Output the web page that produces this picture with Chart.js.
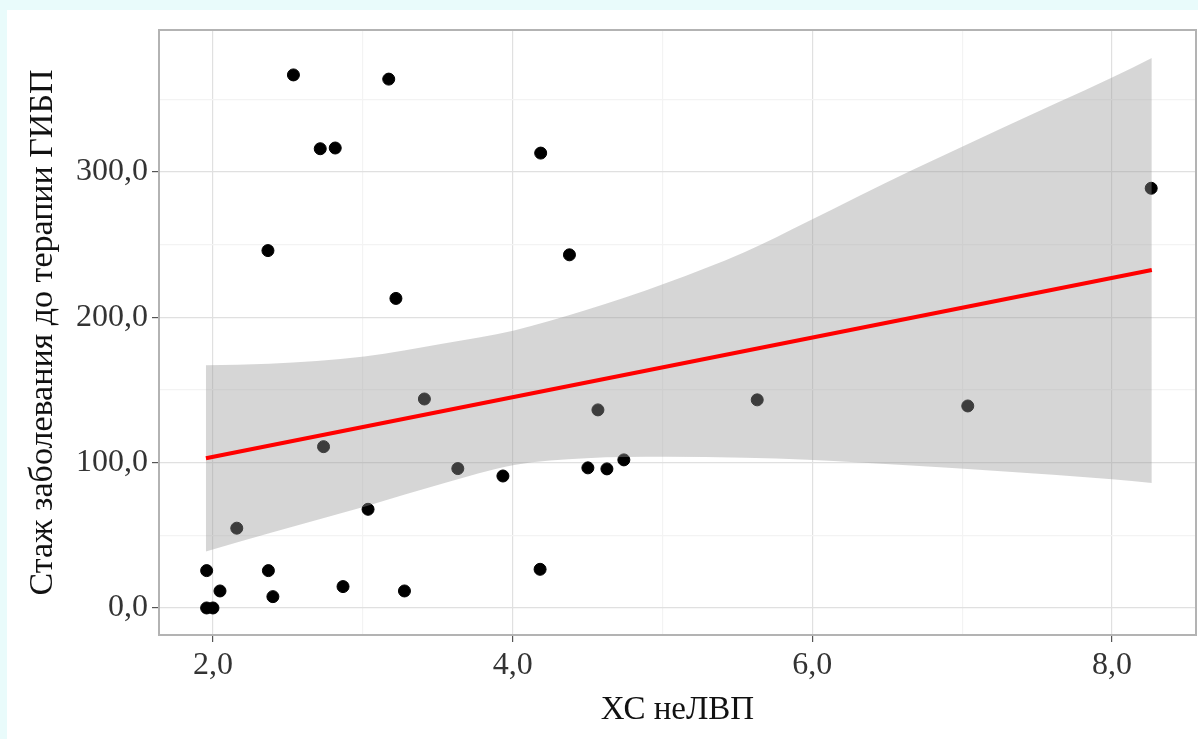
<!DOCTYPE html>
<html>
<head>
<meta charset="utf-8">
<script src="https://cdn.jsdelivr.net/npm/chart.js@4.4.1/dist/chart.umd.min.js"></script>
<style>
  html, body { margin: 0; padding: 0; background: #e9fbfb; overflow: hidden; }
  #wrap { position: absolute; left: 7px; top: 10px; width: 1191px; height: 729px; background: #ffffff; overflow: hidden; }
</style>
</head>
<body>
<div id="wrap"><canvas id="myChart" width="1196" height="729"></canvas></div>
<script>
// points
var xValues = [1.958, 2.0, 1.958, 2.047, 2.159, 2.37, 2.40, 2.367, 2.537, 2.716,
               2.816, 2.738, 2.868, 3.035, 3.173, 3.221, 3.278, 3.411, 3.634, 3.935,
               4.187, 4.183, 4.379, 4.502, 4.569, 4.629, 4.742, 5.632, 7.037, 8.261];
var yValues = [0, 0, 25.7, 11.7, 54.9, 25.7, 7.8, 245.9, 366.8, 316,
               316.5, 111, 14.7, 67.9, 363.9, 213, 11.7, 143.8, 95.9, 90.8,
               313, 26.6, 243, 96.4, 136.3, 95.7, 101.9, 143.2, 139, 288.8];

// confidence band edges
var bandX = [1.953, 2.375, 3.01, 3.54, 4.01, 4.49, 5.02, 5.55, 5.97, 6.66, 7.26, 8.0, 8.265];
var bandUpper = [167, 168, 173, 182, 191, 205, 223.5, 245, 266, 301, 330, 365, 378.5];
var bandLower = [38.8, 51.4, 69.7, 85.8, 98.4, 103, 104, 103.4, 102, 98, 94, 88.5, 86];

// fitted line ends
var fitX = [1.953, 8.265];
var fitY = [103, 232.6];

var tickFont = { family: 'Liberation Serif', size: 32 };
var xTitleFont = { family: 'Liberation Serif', size: 33 };
var yTitleFont = { family: 'Liberation Serif', size: 34 };

function toXY(xs, ys) {
    return xs.map((x, i) => ({ x: x, y: ys[i] }))
}

function fmt(v) {
    return v.toFixed(1).replace('.', ',')
}

function noPad(s) {
    s.paddingTop = 0;
    s.paddingBottom = 0;
    s.paddingLeft = 0;
    s.paddingRight = 0;
}

var frame = {
    id: 'frame',
    afterDraw(chart) {
        let a = chart.chartArea;
        let ctx = chart.ctx;
        ctx.save();
        ctx.strokeStyle = '#b3b3b3';
        ctx.lineWidth = 2;
        ctx.strokeRect(a.left, a.top, a.right - a.left, a.bottom - a.top);
        ctx.restore();
    }
};

function init() {
    let data = {
        datasets: [{
            type: 'scatter',
            data: toXY(xValues, yValues),
            backgroundColor: '#000000',
            borderColor: '#000000',
            pointRadius: 6,
            order: 4
        }, {
            type: 'line',
            data: toXY(bandX, bandUpper),
            borderWidth: 0,
            borderColor: 'rgba(0,0,0,0)',
            backgroundColor: 'rgba(153,153,153,0.4)',
            pointRadius: 0,
            cubicInterpolationMode: 'monotone',
            fill: '+1',
            order: 3
        }, {
            type: 'line',
            data: toXY(bandX, bandLower),
            borderWidth: 0,
            borderColor: 'rgba(0,0,0,0)',
            pointRadius: 0,
            cubicInterpolationMode: 'monotone',
            fill: false,
            order: 3
        }, {
            type: 'line',
            data: toXY(fitX, fitY),
            borderColor: '#ff0000',
            borderWidth: 4,
            pointRadius: 0,
            fill: false,
            order: 1
        }]
    };

    let config = {
        type: 'scatter',
        data,
        options: {
            responsive: false,
            animation: false,
            events: [],
            layout: { padding: { top: 20, right: 3, left: 0, bottom: 0 } },
            plugins: { legend: { display: false }, tooltip: { enabled: false } },
            scales: {
                x: {
                    type: 'linear',
                    min: 1.64,
                    max: 8.56,
                    afterFit: (s) => { s.height = 104; noPad(s) },
                    border: { display: false },
                    grid: {
                        color: (c) => (c.tick && c.tick.value % 2 === 0) ? '#e0e0e0' : '#f3f3f3',
                        tickColor: (c) => (c.tick && c.tick.value % 2 === 0) ? '#555555' : 'rgba(0,0,0,0)',
                        lineWidth: 1.2,
                        tickLength: 7
                    },
                    ticks: {
                        stepSize: 1,
                        includeBounds: false,
                        maxRotation: 0,
                        autoSkip: false,
                        padding: 4,
                        color: '#333333',
                        font: tickFont,
                        callback: (v) => v % 2 === 0 ? fmt(v) : ''
                    },
                    title: {
                        display: true,
                        text: 'ХС неЛВП',
                        color: '#111111',
                        font: xTitleFont,
                        padding: { top: 0, bottom: 9 }
                    }
                },
                y: {
                    type: 'linear',
                    min: -18.6,
                    max: 397.7,
                    afterFit: (s) => { s.width = 152; noPad(s) },
                    border: { display: false },
                    grid: {
                        color: (c) => (c.tick && c.tick.value % 100 === 0) ? '#e0e0e0' : '#f3f3f3',
                        tickColor: (c) => (c.tick && c.tick.value % 100 === 0) ? '#555555' : 'rgba(0,0,0,0)',
                        lineWidth: 1.2,
                        tickLength: 7
                    },
                    ticks: {
                        stepSize: 50,
                        includeBounds: false,
                        autoSkip: false,
                        padding: 4,
                        color: '#333333',
                        font: tickFont,
                        callback: (v) => v % 100 === 0 ? fmt(v) : ''
                    },
                    title: {
                        display: true,
                        text: 'Стаж заболевания до терапии ГИБП',
                        color: '#111111',
                        font: yTitleFont,
                        padding: { top: 16, bottom: 0 }
                    }
                }
            }
        },
        plugins: [frame]
    };

    myChart = new Chart(document.getElementById('myChart'), config);
}

init();
</script>
</body>
</html>
